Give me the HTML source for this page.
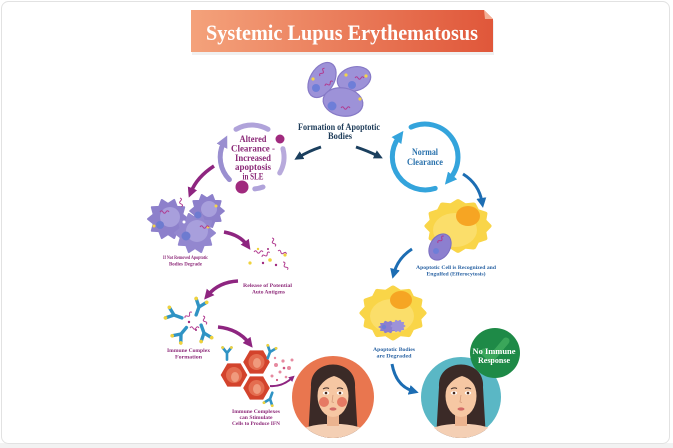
<!DOCTYPE html>
<html><head><meta charset="utf-8"><style>
html,body{margin:0;padding:0;background:#fff;}
svg{display:block;}
text{font-family:"Liberation Serif",serif;font-weight:bold;text-anchor:middle;}
</style></head><body>
<svg width="673" height="448" viewBox="0 0 673 448" xmlns="http://www.w3.org/2000/svg">
<defs>
 <linearGradient id="tg" x1="0" x2="1" y1="0" y2="0"><stop offset="0" stop-color="#f4a27b"/><stop offset="1" stop-color="#e0573a"/></linearGradient>
 <marker id="mN" viewBox="0 0 10 10" refX="4" refY="5" markerWidth="9" markerHeight="9" markerUnits="userSpaceOnUse" orient="auto"><path d="M0,0 L10,5 L0,10 z" fill="#1b3f5e"/></marker>
 <marker id="mM" viewBox="0 0 10 10" refX="4" refY="5" markerWidth="10" markerHeight="10" markerUnits="userSpaceOnUse" orient="auto"><path d="M0,0 L10,5 L0,10 z" fill="#8e2580"/></marker>
 <marker id="mMs" viewBox="0 0 10 10" refX="4" refY="5" markerWidth="6" markerHeight="6" markerUnits="userSpaceOnUse" orient="auto"><path d="M0,0 L10,5 L0,10 z" fill="#8e2580"/></marker>
 <marker id="mB" viewBox="0 0 10 10" refX="4" refY="5" markerWidth="10" markerHeight="10" markerUnits="userSpaceOnUse" orient="auto"><path d="M0,0 L10,5 L0,10 z" fill="#1c6db3"/></marker>
 <marker id="mR" viewBox="0 0 10 10" refX="3" refY="5" markerWidth="12" markerHeight="12" markerUnits="userSpaceOnUse" orient="auto"><path d="M0,0 L10,5 L0,10 z" fill="#34a4dc"/></marker>
 <marker id="mL" viewBox="0 0 10 10" refX="3" refY="5" markerWidth="12" markerHeight="12" markerUnits="userSpaceOnUse" orient="auto"><path d="M0,0 L10,5 L0,10 z" fill="#9a8fd0"/></marker>
 <polygon id="star10" points="20,0 14.27,4.64 16.18,11.76 8.82,12.14 6.18,19.02 0,15 -6.18,19.02 -8.82,12.14 -16.18,11.76 -14.27,4.64 -20,0 -14.27,-4.64 -16.18,-11.76 -8.82,-12.14 -6.18,-19.02 0,-15 6.18,-19.02 8.82,-12.14 16.18,-11.76 14.27,-4.64"/>
 <polygon id="star12" points="28,0 23.18,6.21 24.25,14 16.97,16.97 14,24.25 6.21,23.18 0,28 -6.21,23.18 -14,24.25 -16.97,16.97 -24.25,14 -23.18,6.21 -28,0 -23.18,-6.21 -24.25,-14 -16.97,-16.97 -14,-24.25 -6.21,-23.18 0,-28 6.21,-23.18 14,-24.25 16.97,-16.97 24.25,-14 23.18,-6.21"/>
 <path id="sq" d="M0,0 q1.5,-2.5 3,0 t3,0 t3,0" fill="none" stroke="#b13a8f" stroke-width="1"/>
 <g id="ab"><path d="M0,6 L0,0 L-4,-5 M0,0 L4,-5" stroke="#2f93c4" stroke-width="2.4" fill="none" stroke-linecap="round"/><circle cx="-4" cy="-5" r="1.3" fill="#f0d23c"/><circle cx="4" cy="-5" r="1.3" fill="#f0d23c"/></g>
 <polygon id="hex" points="14,0 7,12.2 -7,12.2 -14,0 -7,-12.2 7,-12.2"/>
 <clipPath id="fc"><circle cx="0" cy="0" r="41"/></clipPath>
</defs>

<!-- frame -->
<rect x="0" y="443" width="673" height="5" fill="#f2f2f2"/>
<rect x="1.5" y="1.5" width="668" height="442" rx="7" fill="#fff" stroke="#e2e2e2"/>

<!-- title -->
<path d="M192,12 L485,12 L494,21 L494,55 L192,55 Z" fill="#e6e6e6" opacity="0.6"/>
<path d="M191,10 L484,10 L493,19 L493,52 L191,52 Z" fill="url(#tg)"/>
<polygon points="484,10 493,19 485,19" fill="#f3b096"/>
<text x="342" y="40" font-size="22" fill="#fff" textLength="272" lengthAdjust="spacingAndGlyphs">Systemic Lupus Erythematosus</text>

<!-- apoptotic bodies -->
<g stroke="#8679c6" stroke-width="1.2" fill="#9d92d8">
 <ellipse cx="322" cy="80" rx="12" ry="19" transform="rotate(30 322 80)"/>
 <ellipse cx="354" cy="79" rx="17" ry="12" transform="rotate(-15 354 79)"/>
 <ellipse cx="343" cy="102" rx="20" ry="14" transform="rotate(10 343 102)"/>
</g>
<g fill="#6e7ed8"><circle cx="316" cy="88" r="4"/><circle cx="352" cy="85" r="4"/><circle cx="332" cy="106" r="4.5"/></g>
<g fill="#f3d34a"><circle cx="313" cy="79" r="1.6"/><circle cx="346" cy="75" r="1.6"/><circle cx="366" cy="76" r="1.6"/><circle cx="360" cy="99" r="1.6"/></g>
<use href="#sq" x="320" y="76" transform="rotate(-60 320 76)"/>
<use href="#sq" x="355" y="78"/>
<use href="#sq" x="341" y="108"/>
<use href="#sq" x="325" y="86" transform="rotate(-30 325 86)"/>
<text x="339" y="130" font-size="9" fill="#1d3b58" textLength="82" lengthAdjust="spacingAndGlyphs">Formation of Apoptotic</text>
<text x="340" y="139" font-size="9" fill="#1d3b58" textLength="24" lengthAdjust="spacingAndGlyphs">Bodies</text>
<path d="M321,147 Q309,151 299,157" fill="none" stroke="#1b3f5e" stroke-width="3" marker-end="url(#mN)"/>
<path d="M356,147 Q368,151 378,156" fill="none" stroke="#1b3f5e" stroke-width="3" marker-end="url(#mN)"/>

<!-- left ring -->
<g fill="none" stroke-width="5" stroke-linecap="round">
 <path d="M236,129.3 A32,32 0 0 1 268,129.3" stroke="#b0a3da"/>
 <path d="M229.4,179.6 A32,32 0 0 1 223.5,143" stroke="#9a8fd0" marker-end="url(#mL)"/>
 <path d="M282.9,148.7 A32,32 0 0 1 279.7,173" stroke="#b8aadc"/>
 <path d="M263,187 A32,32 0 0 1 254.8,188.9" stroke="#b0a3da"/>
</g>
<circle cx="280" cy="139" r="4.5" fill="#a02a7e"/>
<circle cx="242" cy="187" r="6.5" fill="#a02a7e"/>
<g font-size="9" fill="#8b2a78">
 <text x="253" y="142" textLength="27" lengthAdjust="spacingAndGlyphs">Altered</text>
 <text x="253" y="151.5" textLength="44" lengthAdjust="spacingAndGlyphs">Clearance -</text>
 <text x="253" y="161" textLength="36" lengthAdjust="spacingAndGlyphs">Increased</text>
 <text x="253" y="170" textLength="36" lengthAdjust="spacingAndGlyphs">apoptosis</text>
 <text x="253" y="179.5" textLength="21" lengthAdjust="spacingAndGlyphs">in SLE</text>
</g>

<!-- right ring -->
<g fill="none" stroke="#34a4dc" stroke-width="5" stroke-linecap="round">
 <path d="M435.2,188.4 A33,33 0 0 1 398.5,137.7" marker-end="url(#mR)"/>
 <path d="M411.1,127.1 A33,33 0 0 1 450.3,178.2" marker-end="url(#mR)"/>
</g>
<text x="425" y="155" font-size="9.5" fill="#2a72ad" textLength="26" lengthAdjust="spacingAndGlyphs">Normal</text>
<text x="425" y="165" font-size="9.5" fill="#2a72ad" textLength="36" lengthAdjust="spacingAndGlyphs">Clearance</text>
<path d="M463,174 Q479,184 482,202" fill="none" stroke="#1c6db3" stroke-width="3" marker-end="url(#mB)"/>

<!-- yellow cell 1 -->
<use href="#star12" transform="translate(458,226) scale(1.1,0.88)" fill="#f9d548" stroke="#f9d548" stroke-width="5" stroke-linejoin="round"/>
<ellipse cx="455" cy="230" rx="22" ry="17" fill="#fbde6a"/>
<ellipse cx="468" cy="216" rx="12" ry="10" fill="#f6a523"/>
<ellipse cx="440" cy="247" rx="10" ry="14" transform="rotate(30 440 247)" fill="#8c7fcf" stroke="#7b6ec0"/>
<circle cx="436" cy="251" r="3" fill="#6e7ed8"/>
<use href="#sq" x="438" y="243" transform="rotate(-50 438 243)"/>
<text x="456" y="269" font-size="5.5" fill="#2a63a3" textLength="80" lengthAdjust="spacingAndGlyphs">Apoptotic Cell is Recognized and</text>
<text x="456" y="275.5" font-size="5.5" fill="#2a63a3" textLength="59" lengthAdjust="spacingAndGlyphs">Engulfed (Efferocytosis)</text>
<path d="M412,249 Q398,258 394,273" fill="none" stroke="#1c6db3" stroke-width="3" marker-end="url(#mB)"/>

<!-- yellow cell 2 -->
<use href="#star12" transform="translate(393,313) scale(1.1,0.9)" fill="#f9d548" stroke="#f9d548" stroke-width="5" stroke-linejoin="round"/>
<ellipse cx="392" cy="316" rx="22" ry="17" fill="#fbde6a"/>
<ellipse cx="401" cy="300" rx="11" ry="9" fill="#f6a523"/>
<use href="#star10" transform="translate(388,327) scale(0.45,0.3)" fill="#8c7fcf" stroke="#8c7fcf" stroke-width="3" stroke-linejoin="round"/>
<use href="#star10" transform="translate(398,326) scale(0.35,0.3)" fill="#9d92d8" stroke="#9d92d8" stroke-width="3" stroke-linejoin="round"/>
<circle cx="384" cy="327" r="2.2" fill="#6e7ed8"/>
<text x="394" y="351" font-size="5.5" fill="#2a63a3" textLength="42" lengthAdjust="spacingAndGlyphs">Apoptotic Bodies</text>
<text x="394" y="357.5" font-size="5.5" fill="#2a63a3" textLength="35" lengthAdjust="spacingAndGlyphs">are Degraded</text>
<path d="M392,364 Q396,386 413,391" fill="none" stroke="#1c6db3" stroke-width="3" marker-end="url(#mB)"/>

<!-- left chain -->
<path d="M214,166 Q197,177 191,192" fill="none" stroke="#8e2580" stroke-width="3.5" marker-end="url(#mM)"/>
<g stroke-linejoin="round">
 <use href="#star10" transform="translate(168,219)" fill="#8d80cb" stroke="#8d80cb" stroke-width="2"/>
 <use href="#star10" transform="translate(207,211) scale(0.85)" fill="#8d80cb" stroke="#8d80cb" stroke-width="2"/>
 <use href="#star10" transform="translate(195,233)" fill="#9387cf" stroke="#9387cf" stroke-width="2"/>
</g>
<g fill="#a89fdc"><circle cx="170" cy="217" r="10"/><circle cx="209" cy="209" r="8"/><circle cx="197" cy="231" r="11"/></g>
<g fill="#6d7bd0"><circle cx="160" cy="225" r="4"/><circle cx="198" cy="215" r="3.5"/><circle cx="186" cy="236" r="4.5"/></g>
<g fill="#f3d34a"><circle cx="154" cy="226" r="1.5"/><circle cx="216" cy="206" r="1.5"/><circle cx="208" cy="227" r="1.5"/></g>
<use href="#sq" x="160" y="212"/><use href="#sq" x="200" y="227"/><use href="#sq" x="180" y="198" transform="rotate(80 180 198)"/>
<circle cx="184" cy="222" r="1.5" fill="#fff"/>
<g font-size="5.5" fill="#8e2b7a">
 <text x="185.5" y="259" textLength="45" lengthAdjust="spacingAndGlyphs">If Not Removed Apoptotic</text>
 <text x="185.5" y="265.5" textLength="33" lengthAdjust="spacingAndGlyphs">Bodies Degrade</text>
</g>
<path d="M224,232 Q240,235 247,245" fill="none" stroke="#8e2580" stroke-width="3.5" marker-end="url(#mM)"/>
<!-- antigens -->
<use href="#sq" x="272" y="238" transform="rotate(70 272 238)"/>
<use href="#sq" x="254" y="252"/>
<use href="#sq" x="278" y="251" transform="rotate(20 278 251)"/>
<use href="#sq" x="283" y="262" transform="rotate(60 283 262)"/>
<use href="#sq" x="262" y="257" transform="rotate(-30 262 257)"/>
<g fill="#f0d23c"><circle cx="250" cy="263" r="1.6"/><circle cx="270" cy="260" r="1.8"/><circle cx="285" cy="255" r="1.6"/><circle cx="258" cy="249" r="1.2"/></g>
<g fill="#a02a7e"><circle cx="263" cy="263" r="1.2"/><circle cx="276" cy="265" r="1.2"/><circle cx="268" cy="249" r="1"/></g>
<g font-size="5.5" fill="#8e2b7a">
 <text x="267.5" y="287" textLength="49" lengthAdjust="spacingAndGlyphs">Release of Potential</text>
 <text x="268.5" y="293.5" textLength="33" lengthAdjust="spacingAndGlyphs">Auto Antigens</text>
</g>
<path d="M238,281 Q219,282 208,295" fill="none" stroke="#8e2580" stroke-width="3.5" marker-end="url(#mM)"/>
<!-- immune complex -->
<use href="#ab" transform="translate(174,315) rotate(-70) scale(1.4)"/>
<use href="#ab" transform="translate(199,307) rotate(20) scale(1.4)"/>
<use href="#ab" transform="translate(181,334) rotate(-140) scale(1.4)"/>
<use href="#ab" transform="translate(204,333) rotate(160) scale(1.4)"/>
<use href="#sq" x="185" y="318" transform="rotate(-40 185 318)"/>
<use href="#sq" x="190" y="328"/>
<use href="#sq" x="203" y="316" transform="rotate(70 203 316)"/>
<g fill="#a02a7e"><circle cx="189" cy="322" r="1.2"/><circle cx="196" cy="330" r="1"/></g>
<g font-size="5.5" fill="#8e2b7a">
 <text x="188.5" y="352" textLength="43" lengthAdjust="spacingAndGlyphs">Immune Complex</text>
 <text x="188.5" y="358.5" textLength="27" lengthAdjust="spacingAndGlyphs">Formation</text>
</g>
<path d="M218,327 Q238,329 249,343" fill="none" stroke="#8e2580" stroke-width="3.5" marker-end="url(#mM)"/>
<!-- hexagons -->
<g fill="#d3432c" stroke="#fff" stroke-width="1.2">
 <use href="#hex" transform="translate(234,375)"/>
 <use href="#hex" transform="translate(256.5,362)"/>
 <use href="#hex" transform="translate(256.5,388)"/>
</g>
<g fill="#e46d50"><circle cx="234" cy="375" r="8"/><circle cx="256.5" cy="362" r="8"/><circle cx="256.5" cy="388" r="8"/></g>
<g fill="#f09a7d"><ellipse cx="235" cy="377" rx="4" ry="5"/><ellipse cx="257" cy="363" rx="4" ry="5"/><ellipse cx="257" cy="389" rx="4" ry="5"/></g>
<use href="#ab" transform="translate(227,353) scale(1.1)"/>
<use href="#ab" transform="translate(270,352) rotate(20) scale(1.1)"/>
<use href="#ab" transform="translate(270,399) rotate(200) scale(1.1)"/>
<g fill="#e68aa0"><circle cx="276" cy="365" r="2"/><circle cx="283" cy="361" r="1.6"/><circle cx="289" cy="368" r="2"/><circle cx="280" cy="372" r="1.5"/><circle cx="292" cy="360" r="1.5"/><circle cx="286" cy="377" r="1.3"/><circle cx="272" cy="376" r="1.5"/><circle cx="275" cy="358" r="1.2"/></g>
<g fill="#cf5580"><circle cx="284" cy="368" r="1.3"/><circle cx="277" cy="380" r="1.1"/></g>
<path d="M270,386 Q282,387 292,378" fill="none" stroke="#8e2580" stroke-width="2" marker-end="url(#mMs)"/>
<g font-size="5.5" fill="#8e2b7a">
 <text x="256" y="413" textLength="48" lengthAdjust="spacingAndGlyphs">Immune Complexes</text>
 <text x="256" y="419" textLength="33" lengthAdjust="spacingAndGlyphs">can Stimulate</text>
 <text x="256" y="425" textLength="48" lengthAdjust="spacingAndGlyphs">Cells to Produce IFN</text>
</g>

<!-- left face -->
<g transform="translate(333,397)">
 <circle r="41" fill="#e9764f"/>
 <g clip-path="url(#fc)">
  <path d="M-22,-10 C-24,-40 24,-40 22,-10 L25,42 L-25,42 Z" fill="#3b2a27"/>
  <path d="M-42,45 Q-38,29 -8,27 L8,27 Q38,29 42,45 Z" fill="#f4cfb4"/>
  <rect x="-6" y="14" width="12" height="15" fill="#ebb38f"/>
  <ellipse cx="0" cy="-1" rx="15.5" ry="21" fill="#f6c7a3"/>
  <path d="M-16,-6 Q-15,-27 0,-26 Q15,-27 16,-6 Q12,-18 1,-21 Q-10,-18 -16,-6 Z" fill="#3b2a27"/>
  <circle cx="-9" cy="5" r="5" fill="#e0604f" opacity="0.75"/>
  <circle cx="9" cy="5" r="5" fill="#e0604f" opacity="0.75"/>
  <ellipse cx="-7" cy="-4" rx="3.2" ry="1.7" fill="#fff"/><circle cx="-7" cy="-4" r="1.3" fill="#4a2a1c"/>
  <ellipse cx="7" cy="-4" rx="3.2" ry="1.7" fill="#fff"/><circle cx="7" cy="-4" r="1.3" fill="#4a2a1c"/>
  <path d="M-10,-8 Q-7,-10 -4,-8.5 M10,-8 Q7,-10 4,-8.5" stroke="#3b2a27" stroke-width="1" fill="none"/>
  <path d="M0,-2 L-1,5 L1,5.5" stroke="#d49a7a" stroke-width="0.8" fill="none"/>
  <ellipse cx="0" cy="12" rx="3.5" ry="1.6" fill="#d46a66"/>
 </g>
</g>

<!-- right face -->
<g transform="translate(461,397)">
 <circle r="40" fill="#5ab7c5"/>
 <g clip-path="url(#fc)">
  <path d="M-22,-10 C-24,-40 24,-40 22,-10 L25,42 L-25,42 Z" fill="#3b2a27"/>
  <path d="M-42,45 Q-38,29 -8,27 L8,27 Q38,29 42,45 Z" fill="#f4cfb4"/>
  <rect x="-6" y="14" width="12" height="15" fill="#ebb38f"/>
  <ellipse cx="0" cy="-1" rx="15.5" ry="21" fill="#f6c7a3"/>
  <path d="M-16,-6 Q-15,-27 0,-26 Q15,-27 16,-6 Q12,-18 1,-21 Q-10,-18 -16,-6 Z" fill="#3b2a27"/>
  <ellipse cx="-7" cy="-4" rx="3.2" ry="1.7" fill="#fff"/><circle cx="-7" cy="-4" r="1.3" fill="#4a2a1c"/>
  <ellipse cx="7" cy="-4" rx="3.2" ry="1.7" fill="#fff"/><circle cx="7" cy="-4" r="1.3" fill="#4a2a1c"/>
  <path d="M-10,-8 Q-7,-10 -4,-8.5 M10,-8 Q7,-10 4,-8.5" stroke="#3b2a27" stroke-width="1" fill="none"/>
  <path d="M0,-2 L-1,5 L1,5.5" stroke="#d49a7a" stroke-width="0.8" fill="none"/>
  <ellipse cx="0" cy="12" rx="3.5" ry="1.6" fill="#d46a66"/>
 </g>
</g>

<!-- green badge -->
<circle cx="495" cy="353" r="25" fill="#1e8a47"/>
<path d="M484,352 L491,359 L506,341" fill="none" stroke="#3aa65a" stroke-width="7" stroke-linecap="round" stroke-linejoin="round"/>
<text x="494" y="354" font-size="8.5" fill="#fff" textLength="43" lengthAdjust="spacingAndGlyphs">No Immune</text>
<text x="494" y="363" font-size="8.5" fill="#fff" textLength="32" lengthAdjust="spacingAndGlyphs">Response</text>
</svg>
</body></html>
